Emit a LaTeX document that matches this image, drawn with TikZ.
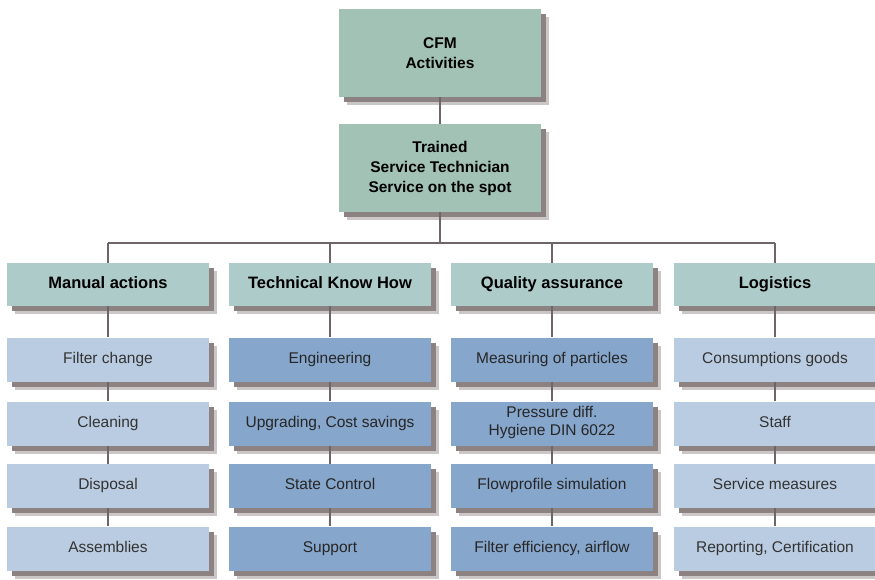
\documentclass[tikz,border=0pt]{standalone}
\usepackage{fontspec}
\setmainfont{Liberation Sans}
\definecolor{topgreen}{HTML}{A2C2B6}
\definecolor{headgreen}{HTML}{ADCBC8}
\definecolor{lightblue}{HTML}{BACCE2}
\definecolor{darkblue}{HTML}{86A6CC}
\definecolor{shadowgray}{HTML}{8C8282}
\definecolor{linegray}{HTML}{6E6666}
\tikzset{
  x=1pt, y=-1pt,
  boxbase/.style={minimum width=202pt, align=center, inner sep=2pt,
    preaction={fill=shadowgray!45, transform canvas={xshift=8pt,yshift=-8pt}},
    preaction={fill=shadowgray, transform canvas={xshift=5pt,yshift=-5pt}}},
  topbox/.style={boxbase, fill=topgreen, minimum height=88pt,
    font=\fontsize{15.5}{20}\selectfont\bfseries},
  headbox/.style={boxbase, fill=headgreen, minimum height=43pt,
    font=\fontsize{16.5}{19}\selectfont\bfseries, execute at begin node=\strut},
  lbox/.style={boxbase, fill=lightblue, minimum height=44pt,
    font=\fontsize{15.5}{18}\selectfont, text=black!80, execute at begin node=\strut},
  dbox/.style={boxbase, fill=darkblue, minimum height=44pt,
    font=\fontsize{15.5}{18}\selectfont, text=black!85, execute at begin node=\strut},
  conn/.style={draw=linegray, line width=2.5pt},
}
\begin{document}
\begin{tikzpicture}
\useasboundingbox (0,0) rectangle (875,580);
\fill[white] (0,0) rectangle (875,580);

\coordinate (hl) at (108,243);
\coordinate (hm) at (440,243);
\coordinate (hr) at (775,243);

% top boxes
\node[topbox] (cfm) at (440,53) {CFM\\Activities};
\node[topbox] (tst) at (440,168) {Trained\\Service Technician\\Service on the spot};

% headers
\node[headbox] (h1) at (108,284.5) {Manual actions};
\node[headbox] (h2) at (330,284.5) {Technical Know How};
\node[headbox] (h3) at (552,284.5) {Quality assurance};
\node[headbox] (h4) at (775,284.5) {Logistics};

% column 1
\node[lbox] (a1) at (108,359.5) {Filter change};
\node[lbox] (a2) at (108,423.5) {Cleaning};
\node[lbox] (a3) at (108,486) {Disposal};
\node[lbox] (a4) at (108,548.5) {Assemblies};
% column 2
\node[dbox] (b1) at (330,359.5) {Engineering};
\node[dbox] (b2) at (330,423.5) {Upgrading, Cost savings};
\node[dbox] (b3) at (330,486) {State Control};
\node[dbox] (b4) at (330,548.5) {Support};
% column 3
\node[dbox] (c1) at (552,359.5) {Measuring of particles};
\node[dbox] (c2) at (552,423.5) {Pressure diff.\\Hygiene DIN 6022};
\node[dbox] (c3) at (552,486) {Flowprofile simulation};
\node[dbox] (c4) at (552,548.5) {Filter efficiency, airflow};
% column 4
\node[lbox] (d1) at (775,359.5) {Consumptions goods};
\node[lbox] (d2) at (775,423.5) {Staff};
\node[lbox] (d3) at (775,486) {Service measures};
\node[lbox] (d4) at (775,548.5) {Reporting, Certification};

% connectors
\draw[conn] (cfm.south) -- (tst.north);
\draw[conn] (tst.south) -- (hm);
\draw[conn, line width=2pt] (hl) -- (hr);
\draw[conn] (hl) -- (h1.north);
\draw[conn] (h2.north |- hl) -- (h2.north);
\draw[conn] (h3.north |- hl) -- (h3.north);
\draw[conn] (hr) -- (h4.north);
\foreach \c/\h in {a/h1,b/h2,c/h3,d/h4}{
  \draw[conn] (\h.south) -- (\c1.north);
  \draw[conn] (\c1.south) -- (\c2.north);
  \draw[conn] (\c2.south) -- (\c3.north);
  \draw[conn] (\c3.south) -- (\c4.north);
}
\end{tikzpicture}
\end{document}
